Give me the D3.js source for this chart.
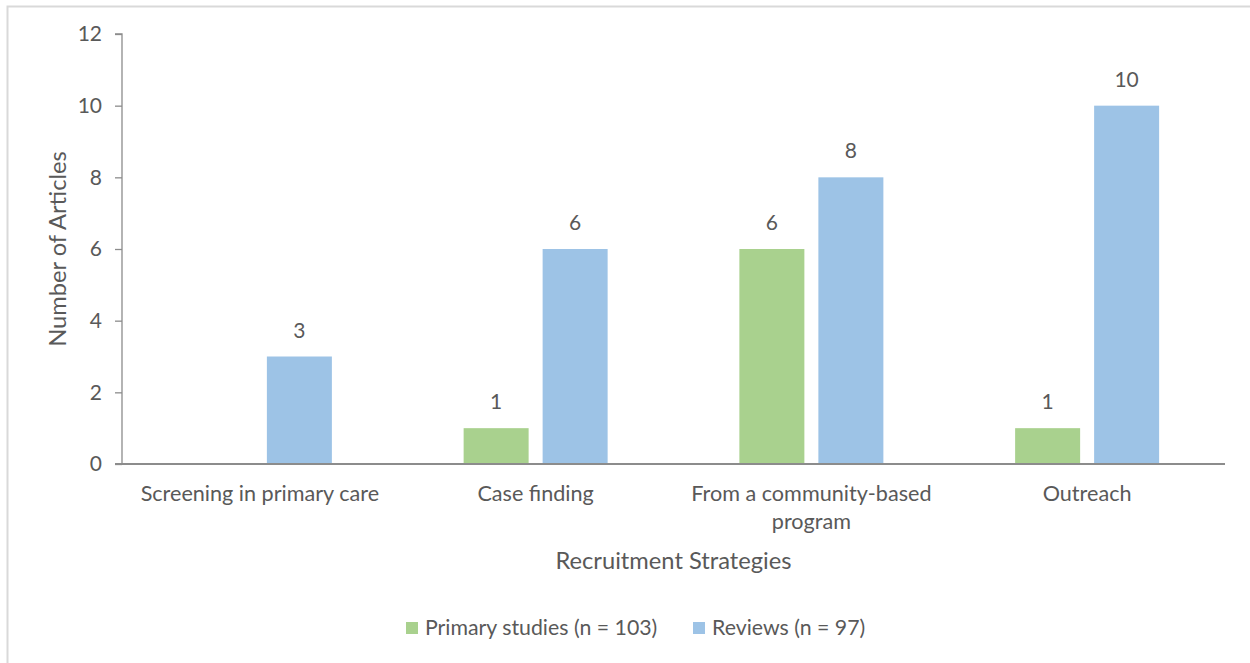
<!DOCTYPE html>
<html>
<head>
<meta charset="utf-8">
<script src="https://cdn.jsdelivr.net/npm/d3@7"></script>
<style>
  html, body { margin: 0; padding: 0; background: #fff; }
  svg text { font-family: Lato, "Open Sans", "Liberation Sans", sans-serif; fill: #595959; }
</style>
</head>
<body>
<svg id="chart" width="1250" height="663"></svg>
<script>
// Recruitment strategies and article counts per source type
const categories = [
  ["Screening in primary care"],
  ["Case finding"],
  ["From a community-based", "program"],
  ["Outreach"]
];
const primaryStudies = [null, 1, 6, 1];
const reviews = [3, 6, 8, 10];
const seriesNames = ["Primary studies (n = 103)", "Reviews (n = 97)"];
const seriesColors = ["#a9d18e", "#9dc3e6"];
const yTicks = [0, 2, 4, 6, 8, 10, 12];

const svg = d3.select("#chart");

// outer chart frame
svg.append("rect")
  .attr("x", 7.5).attr("y", 6.5)
  .attr("width", 1260).attr("height", 670)
  .attr("fill", "none").attr("stroke", "#d9d9d9").attr("stroke-width", 2);

const plot = { left: 122, right: 1225, top: 34, bottom: 464 };

const x = d3.scaleBand()
  .domain(d3.range(categories.length))
  .range([plot.left, plot.right])
  .paddingInner(0).paddingOuter(0);

const y = d3.scaleLinear().domain([0, 12]).range([plot.bottom, plot.top]);

// series offsets inside each category band
const barW = 65, gap = 14;
const xs = d3.scaleOrdinal().domain([0, 1])
  .range([-(gap / 2 + barW), gap / 2]);

// y axis
const yAxis = svg.append("g")
  .attr("transform", `translate(${plot.left},0)`)
  .call(d3.axisLeft(y).tickValues(yTicks).tickSize(7).tickPadding(13).tickFormat(d3.format("d")));
yAxis.select(".domain").attr("stroke", "#8c8c8c").attr("stroke-width", 1.3).attr("d", `M-7,${plot.top}H0V${plot.bottom}`);
yAxis.selectAll(".tick line").attr("stroke", "#8c8c8c").attr("stroke-width", 1.3);
yAxis.selectAll(".tick text").style("font-size", "21px").attr("fill", "#595959");

// bars
const series = [primaryStudies, reviews];
series.forEach((vals, si) => {
  const g = svg.append("g");
  vals.forEach((v, i) => {
    if (v == null) return;
    const bx = x(i) + x.bandwidth() / 2 + xs(si);
    g.append("rect")
      .attr("x", bx).attr("y", y(v))
      .attr("width", barW).attr("height", y(0) - y(v))
      .attr("fill", seriesColors[si]);
    g.append("text")
      .attr("x", bx + barW / 2).attr("y", y(v) - 19)
      .attr("text-anchor", "middle")
      .style("font-size", "21px")
      .text(v);
  });
});

// x axis line
svg.append("line")
  .attr("x1", 115).attr("x2", plot.right)
  .attr("y1", y(0)).attr("y2", y(0))
  .attr("stroke", "#8c8c8c").attr("stroke-width", 2);

// category labels
categories.forEach((lines, i) => {
  const t = svg.append("text")
    .attr("x", x(i) + x.bandwidth() / 2)
    .attr("y", 501)
    .attr("text-anchor", "middle")
    .style("font-size", "21.6px");
  lines.forEach((ln, k) => {
    t.append("tspan").attr("x", x(i) + x.bandwidth() / 2).attr("dy", k === 0 ? 0 : 28).text(ln);
  });
});

// axis titles
svg.append("text")
  .attr("x", (plot.left + plot.right) / 2).attr("y", 569)
  .attr("text-anchor", "middle")
  .style("font-size", "23.7px")
  .text("Recruitment Strategies");

svg.append("text")
  .attr("transform", `translate(66,${(plot.top + plot.bottom) / 2}) rotate(-90)`)
  .attr("text-anchor", "middle")
  .style("font-size", "23.7px")
  .text("Number of Articles");

// legend
const legendItems = [{ x: 406 }, { x: 693 }];
legendItems.forEach((it, i) => {
  svg.append("rect")
    .attr("x", it.x).attr("y", 622)
    .attr("width", 12).attr("height", 12)
    .attr("fill", seriesColors[i]);
  svg.append("text")
    .attr("x", it.x + 19).attr("y", 635)
    .style("font-size", "21.3px")
    .text(seriesNames[i]);
});
</script>
</body>
</html>
